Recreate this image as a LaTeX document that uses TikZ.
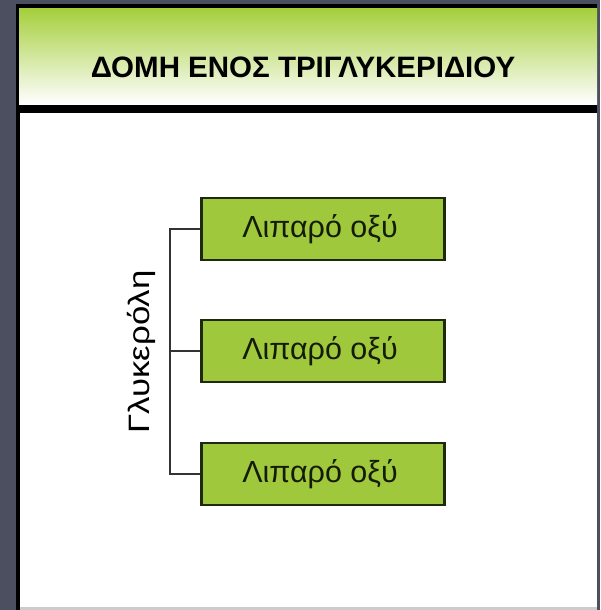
\documentclass[tikz,border=0pt]{standalone}
\usepackage{fontspec}
\setmainfont{Liberation Sans}
\definecolor{bgdark}{HTML}{4B4F5F}
\definecolor{hdrgreen}{HTML}{A6CF3D}
\definecolor{boxgreen}{HTML}{A0C83C}
\definecolor{boxline}{HTML}{1E2A0E}
\definecolor{txtdark}{HTML}{141C06}
\tikzset{
  acidbox/.style={draw=boxline, line width=2.6pt, fill=boxgreen, minimum width=243pt, minimum height=62pt, inner sep=0pt, font=\fontsize{30.5}{32}\selectfont, text=txtdark},
  bracket/.style={draw=black!80, line width=1.5pt}
}
\begin{document}
\begin{tikzpicture}[x=1pt,y=-1pt]
\useasboundingbox (0,0) rectangle (600,610);
\fill[bgdark] (0,0) rectangle (600,610);
\fill[black] (16,4) rectangle (597,610);
\shade[top color=hdrgreen, bottom color=white, middle color=hdrgreen!50] (19,9) rectangle (597,104);
\fill[white] (20,113) rectangle (597,607);
\fill[black!20] (20,607) rectangle (597,610);
\node[font=\bfseries\fontsize{29.5}{31}\selectfont, text=black] (title) at (303,67) {ΔΟΜΗ ΕΝΟΣ ΤΡΙΓΛΥΚΕΡΙΔΙΟΥ};
\node[acidbox] (a1) at (323,229) {\hspace*{-6pt}Λιπαρό οξύ};
\node[acidbox] (a2) at (323,351) {\hspace*{-6pt}Λιπαρό οξύ};
\node[acidbox] (a3) at (323,474) {\hspace*{-6pt}Λιπαρό οξύ};
\coordinate (x0) at (170,0);
\coordinate (b1) at (x0 |- a1.west);
\coordinate (b2) at (x0 |- a2.west);
\coordinate (b3) at (x0 |- a3.west);
\draw[bracket] (a1.west) -- (b1) -- (b3) -- (a3.west);
\draw[bracket] (b2) -- (a2.west);
\node[rotate=90, font=\fontsize{29.5}{31}\selectfont, text=black, inner sep=0pt] (gly) at (141,352) {\scalebox{1.18}[1]{Γλυκερόλη}};
\end{tikzpicture}
\end{document}
